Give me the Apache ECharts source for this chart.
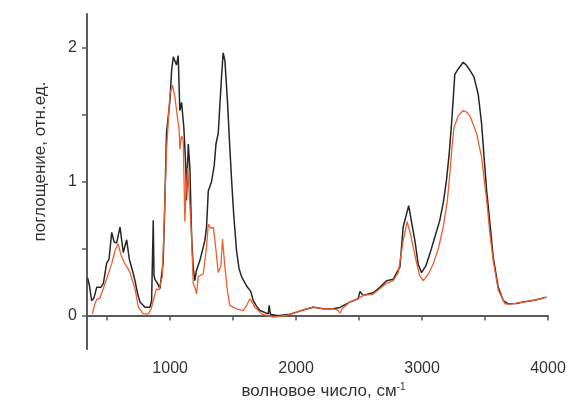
<!DOCTYPE html>
<html>
<head>
<meta charset="utf-8">
<script src="https://cdn.jsdelivr.net/npm/echarts@6/dist/echarts.min.js"></script>
<style>
  html, body { margin: 0; padding: 0; background: #fff; }
  #chart { width: 570px; height: 409px; }
</style>
</head>
<body>
<div id="chart"></div>
<script>
// black spectrum
const blackX = [345, 360, 377, 395, 417, 450, 470, 496, 515, 536, 555, 575, 602, 628, 655, 676, 700, 721, 740, 761,
  800, 840, 853, 866, 872, 879, 900, 919, 945, 958, 971, 998, 1012, 1025, 1038, 1051, 1064, 1077, 1091, 1104,
  1109, 1125, 1130, 1144, 1157, 1170, 1183, 1196, 1210, 1236, 1263, 1276, 1289, 1303, 1329, 1350, 1364, 1382, 1408, 1421,
  1435, 1455, 1474, 1488, 1505, 1527, 1547, 1567, 1607, 1640, 1660, 1686, 1713, 1779, 1787, 1795, 1845, 1872, 1950, 2004,
  2070, 2136, 2216, 2295, 2348, 2427, 2493, 2507, 2533, 2612, 2665, 2718, 2771, 2811, 2824, 2850, 2894, 2920, 2943, 2970,
  2996, 3030, 3062, 3100, 3141, 3170, 3194, 3215, 3234, 3250, 3260, 3287, 3327, 3350, 3380, 3412, 3446, 3473, 3495, 3513,
  3540, 3565, 3605, 3645, 3685, 3750, 3803, 3900, 3988]
const blackY = [0.28, 0.22, 0.11, 0.13, 0.21, 0.21, 0.24, 0.39, 0.42, 0.62, 0.55, 0.54, 0.66, 0.47, 0.565, 0.42, 0.34, 0.26, 0.17, 0.10,
  0.062, 0.062, 0.11, 0.71, 0.30, 0.27, 0.24, 0.20, 0.40, 0.85, 1.36, 1.6, 1.83, 1.93, 1.94, 1.87, 1.94, 1.53, 1.59, 1.45,
  1.40, 1.10, 0.86, 1.28, 1.10, 0.6, 0.36, 0.26, 0.34, 0.41, 0.51, 0.56, 0.66, 0.93, 1.0, 1.12, 1.28, 1.36, 1.78, 1.96,
  1.9, 1.6, 1.25, 1.01, 0.75, 0.485, 0.35, 0.29, 0.22, 0.18, 0.11, 0.07, 0.037, 0.012, 0.075, 0.01, 0.0, 0.0, 0.01, 0.025,
  0.045, 0.062, 0.05, 0.05, 0.06, 0.1, 0.125, 0.18, 0.15, 0.17, 0.21, 0.26, 0.27, 0.34, 0.36, 0.66, 0.82, 0.68, 0.56, 0.38,
  0.32, 0.37, 0.46, 0.58, 0.71, 0.85, 1.01, 1.2, 1.43, 1.65, 1.80, 1.84, 1.89, 1.87, 1.83, 1.78, 1.65, 1.43, 1.15, 0.93,
  0.68, 0.435, 0.21, 0.11, 0.087, 0.09, 0.1, 0.115, 0.137]

// orange spectrum
const orangeX = [382, 400, 417, 443, 469, 509, 536, 562, 588, 610, 625, 641, 660, 681, 721, 748, 787, 827, 850, 866,
  892, 911, 938, 959, 971, 998, 1019, 1025, 1038, 1055, 1072, 1077, 1090, 1104, 1117, 1125, 1140, 1154, 1170, 1183,
  1200, 1210, 1223, 1263, 1289, 1303, 1323, 1342, 1356, 1382, 1403, 1416, 1435, 1455, 1474, 1527, 1580, 1610, 1633, 1650,
  1673, 1726, 1819, 1925, 2004, 2070, 2136, 2216, 2295, 2330, 2348, 2365, 2427, 2493, 2533, 2612, 2665, 2718, 2771, 2811,
  2851, 2882, 2910, 2950, 2980, 3009, 3050, 3089, 3130, 3168, 3200, 3221, 3240, 3253, 3287, 3327, 3350, 3380, 3433, 3473,
  3513, 3540, 3565, 3605, 3658, 3700, 3803, 3900, 3988]
const orangeY = [0.01, 0.08, 0.12, 0.13, 0.2, 0.31, 0.385, 0.485, 0.535, 0.45, 0.42, 0.385, 0.36, 0.32, 0.2, 0.062, 0.012, 0.012, 0.05, 0.11,
  0.2, 0.19, 0.29, 0.86, 1.23, 1.65, 1.72, 1.72, 1.63, 1.5, 1.38, 1.24, 1.34, 1.31, 0.70, 0.9, 1.1, 1.1, 0.6, 0.24,
  0.2, 0.16, 0.29, 0.31, 0.51, 0.68, 0.65, 0.66, 0.56, 0.32, 0.37, 0.57, 0.36, 0.18, 0.075, 0.05, 0.037, 0.08, 0.125, 0.1,
  0.062, 0.012, -0.012, 0.0, 0.025, 0.045, 0.065, 0.05, 0.05, 0.04, 0.017, 0.05, 0.1, 0.125, 0.15, 0.16, 0.2, 0.24, 0.26, 0.32,
  0.56, 0.70, 0.6, 0.42, 0.3, 0.26, 0.31, 0.385, 0.5, 0.66, 0.85, 1.06, 1.28, 1.40, 1.49, 1.53, 1.52, 1.49, 1.36, 1.18,
  0.86, 0.6, 0.41, 0.19, 0.087, 0.085, 0.1, 0.115, 0.137]

const xLabels = [1000, 2000, 3000, 4000]
const xTicks = [500, 1000, 1500, 2000, 2500, 3000, 3500, 4000]
const yLabels = [0, 1, 2]
const yTicks = [0, 0.5, 1, 1.5, 2]

const pairs = (xs, ys) => xs.map((x, i) => [x, ys[i]])

const axisColor = '#5a5a5a'
const textColor = '#333'
const font = 'Liberation Sans, Arial, sans-serif'

const chart = echarts.init(document.getElementById('chart'))
chart.setOption({
  animation: false,
  grid: { left: 87, right: 22, top: 14, bottom: 60 },
  xAxis: {
    type: 'value',
    min: 340,
    max: 4000,
    name: 'волновое число, см{sup|-1}',
    nameLocation: 'middle',
    nameGap: 33,
    nameTextStyle: {
      color: textColor,
      fontFamily: font,
      fontSize: 17,
      padding: [0, 0, 0, 12],
      rich: { sup: { fontSize: 10, verticalAlign: 'top', padding: [0, 0, 9, 0], color: textColor, fontFamily: font } }
    },
    axisLine: { lineStyle: { color: axisColor, width: 2 } },
    axisTick: { show: true, inside: false, length: 5, customValues: xTicks, lineStyle: { color: axisColor, width: 1.5 } },
    axisLabel: {
      customValues: xLabels, color: textColor, fontFamily: font, fontSize: 16, margin: 12,
      formatter: (v) => String(v)
    },
    splitLine: { show: false }
  },
  yAxis: {
    type: 'value',
    min: -0.25,
    max: 2.25,
    name: 'поглощение, отн.ед.',
    nameLocation: 'middle',
    nameGap: 38,
    nameTextStyle: { color: textColor, fontFamily: font, fontSize: 17, padding: [0, 0, 0, 40] },
    axisLine: { show: true, lineStyle: { color: axisColor, width: 2 } },
    axisTick: { show: true, inside: false, length: 5, customValues: yTicks, lineStyle: { color: axisColor, width: 1.5 } },
    axisLabel: { customValues: yLabels, color: textColor, fontFamily: font, fontSize: 16, margin: 10 },
    splitLine: { show: false }
  },
  series: [{
    type: 'line',
    data: pairs(blackX, blackY),
    symbol: 'none',
    lineStyle: { color: '#262626', width: 1.5 }
  }, {
    type: 'line',
    data: pairs(orangeX, orangeY),
    symbol: 'none',
    lineStyle: { color: '#ee5e2c', width: 1.3 }
  }]
})
</script>
</body>
</html>
